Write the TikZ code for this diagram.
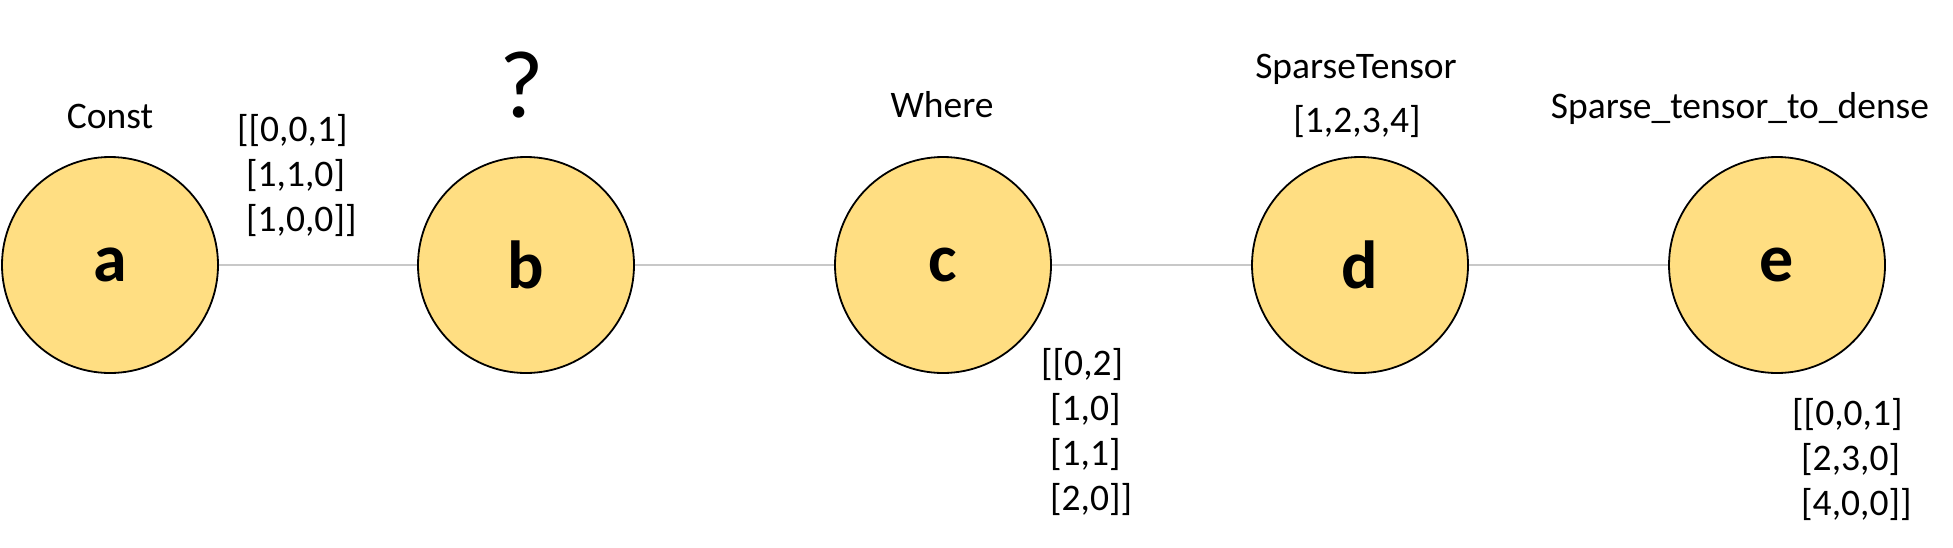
\documentclass[tikz,border=0pt]{standalone}
\usepackage{fontspec}
\setmainfont{Carlito}
\begin{document}
\begin{tikzpicture}[x=1pt,y=-1pt,
  opnode/.style={circle,draw=black,line width=1.8pt,fill=nodefill,minimum size=216pt,inner sep=0pt,
    font=\fontsize{68}{80}\selectfont\bfseries},
  lbl/.style={inner sep=0pt,font=\fontsize{37.5}{45}\selectfont},
  mat/.style={inner sep=0pt,align=left,anchor=west,font=\fontsize{37.5}{45}\selectfont},
  link/.style={draw=linkgray,line width=1.5pt}]
\definecolor{nodefill}{HTML}{FFDE82}
\definecolor{linkgray}{HTML}{C8C8C8}
\useasboundingbox (0,0) rectangle (1953,547);
\node[opnode] (a) at (110,265) {a};
\node[opnode] (b) at (526,265) {b};
\node[opnode] (c) at (943,265) {c};
\node[opnode] (d) at (1360,265) {d};
\node[opnode] (e) at (1777,265) {e};
\draw[link] (a) -- (b);
\draw[link] (b) -- (c);
\draw[link] (c) -- (d);
\draw[link] (d) -- (e);
\node[lbl] (lconst) at (110,116) {Const};
\node[inner sep=0pt,font=\fontsize{96}{110}\selectfont] (lq) at (522,85) {?};
\node[lbl] (lwhere) at (942,105) {Where};
\node[lbl] (lsparse) at (1356,69) {SparseTensor};
\node[lbl] (lshape) at (1357,121) {[1,2,3,4]};
\node[lbl] (ldense) at (1740,108) {Sparse\_tensor\_to\_dense};
\node[mat] (mab) at (237,175) {[[0,0,1]\\\hspace*{9pt}[1,1,0]\\\hspace*{9pt}[1,0,0]]};
\node[mat] (mc) at (1041,432) {[[0,2]\\\hspace*{9pt}[1,0]\\\hspace*{9pt}[1,1]\\\hspace*{9pt}[2,0]]};
\node[mat] (me) at (1792,459) {[[0,0,1]\\\hspace*{9pt}[2,3,0]\\\hspace*{9pt}[4,0,0]]};
\end{tikzpicture}
\end{document}
